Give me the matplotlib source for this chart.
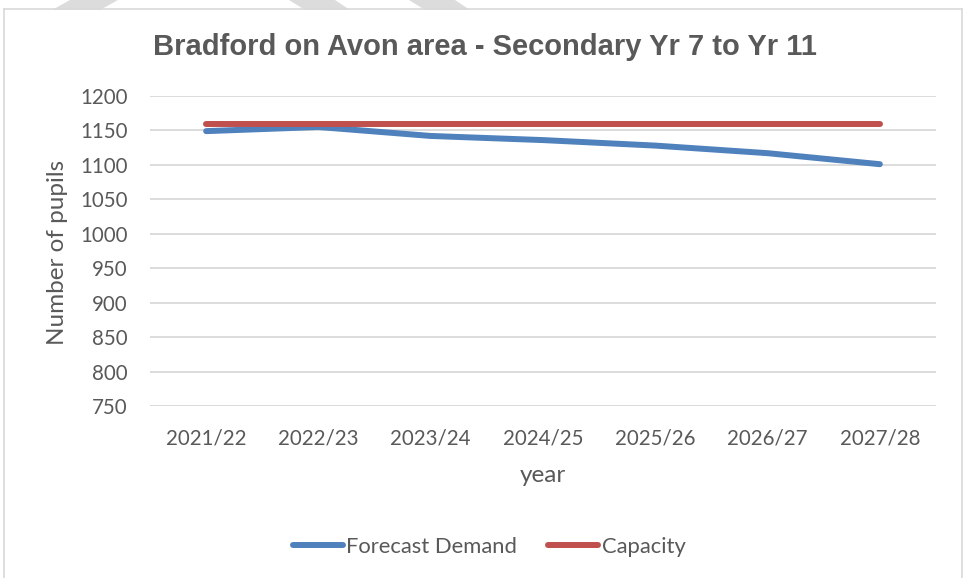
import matplotlib
matplotlib.use("Agg")
import matplotlib.pyplot as plt
from matplotlib.lines import Line2D
from matplotlib.patches import Polygon

years = ["2021/22", "2022/23", "2023/24", "2024/25", "2025/26", "2026/27", "2027/28"]
forecast_demand = [1149, 1155, 1142, 1136, 1128, 1117, 1101]
capacity = [1160, 1160, 1160, 1160, 1160, 1160, 1160]
y_ticks = [750, 800, 850, 900, 950, 1000, 1050, 1100, 1150, 1200]

W, H = 965, 578
fig = plt.figure(figsize=(W / 100, H / 100), dpi=100)
fig.patch.set_facecolor("white")

def fx(px):
    return px / W

def fy(py):
    return 1 - py / H

TXT = "#595959"
GRID = "#d9d9d9"
FONT = "Lato"

# watermark stripes at top
for pts in [
    [(70, 0), (118, 0), (100, 10), (52, 10)],
    [(289, 0), (335, 0), (350, 10), (305, 10)],
    [(409, 0), (455, 0), (470, 10), (425, 10)],
]:
    fig.patches.append(Polygon([(fx(x), fy(y)) for x, y in pts], closed=True,
                               transform=fig.transFigure, facecolor="#dcdcdc",
                               edgecolor="none", zorder=0))

# chart border
for xs, ys in [([4, 4], [9, 578]), ([4, 962], [9, 9]), ([962, 962], [9, 578])]:
    fig.lines.append(Line2D([fx(x) for x in xs], [fy(y) for y in ys],
                            transform=fig.transFigure, color=GRID, lw=1.2))

ax = fig.add_axes([fx(150), fy(406), fx(936) - fx(150), fy(96) - fy(406)])
ax.set_facecolor("none")
x = list(range(len(years)))

ax.plot(x, forecast_demand, color="#4f81bd", lw=4.3, solid_capstyle="round",
        solid_joinstyle="round", label="Forecast Demand", zorder=3)
ax.plot(x, capacity, color="#c0504d", lw=4.3, solid_capstyle="round",
        label="Capacity", zorder=3)

ax.set_xlim(-0.5, len(years) - 0.5)
ax.set_ylim(750, 1200)
ax.set_yticks(y_ticks)
ax.set_xticks(x)
ax.set_xticklabels(years)
for sp in ax.spines.values():
    sp.set_visible(False)
ax.grid(axis="y", color=GRID, lw=1.3)
ax.set_axisbelow(True)
ax.tick_params(axis="both", length=0, labelsize=14.8, labelcolor=TXT)
ax.tick_params(axis="y", pad=16)
ax.tick_params(axis="x", pad=16)
for lab in ax.get_xticklabels() + ax.get_yticklabels():
    lab.set_fontfamily(FONT)

fig.text(fx(485), fy(47), "Bradford on Avon area - Secondary Yr 7 to Yr 11",
         ha="center", va="center", fontsize=21, fontweight="bold",
         color=TXT, family="Liberation Sans")
fig.text(fx(58), fy(252), "Number of pupils", rotation=90, ha="center",
         va="center", fontsize=17.5, color=TXT, family=FONT)
fig.text(fx(543), fy(476), "year", ha="center", va="center",
         fontsize=17.5, color=TXT, family=FONT)

fig.legend(loc="center", bbox_to_anchor=(fx(489), fy(547)), ncol=2,
           frameon=False, handlelength=2.3, handletextpad=0.15,
           columnspacing=1.4, prop={"family": FONT, "size": 15.8},
           labelcolor=TXT)

fig.savefig("out.png", dpi=100, facecolor="white")
